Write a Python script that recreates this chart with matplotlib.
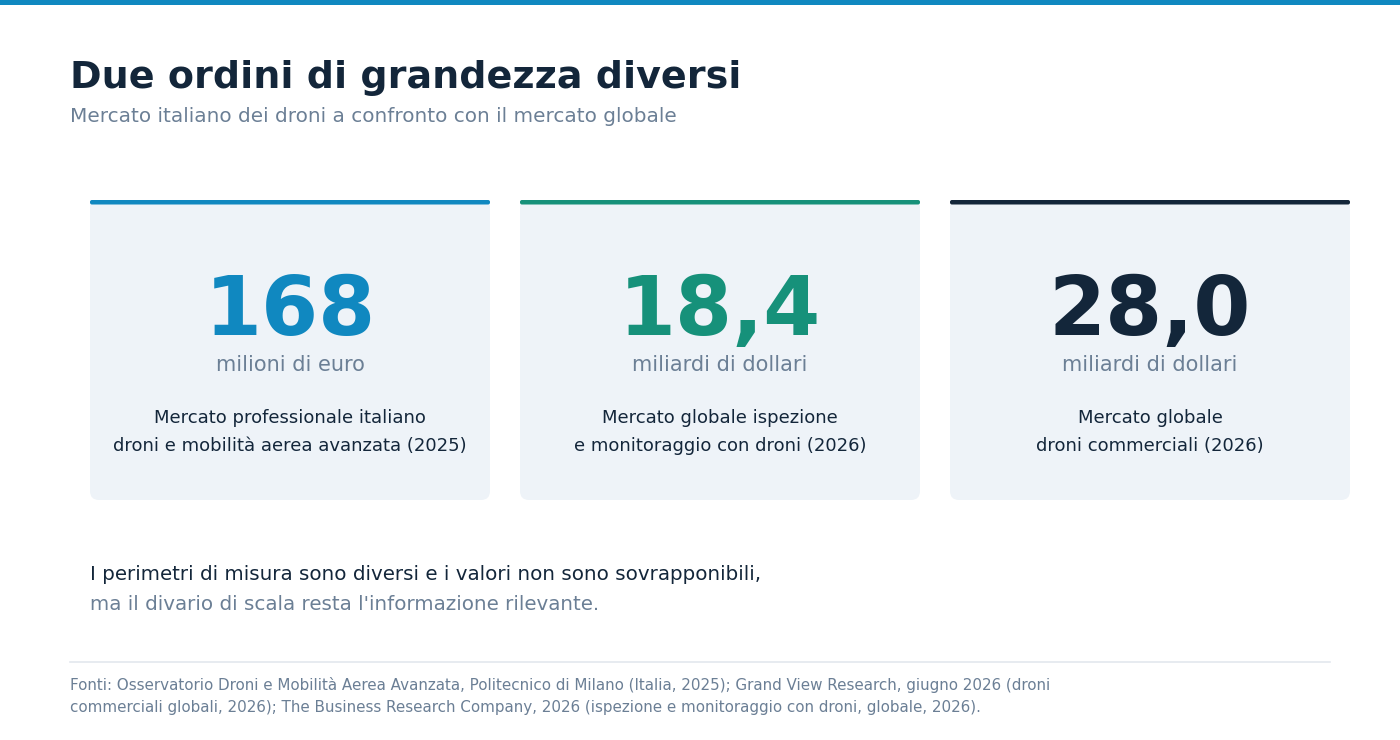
import matplotlib
matplotlib.use('Agg')
import matplotlib.pyplot as plt
from matplotlib.patches import FancyBboxPatch, Rectangle

# Dati delle tre schede
valori = ['168', '18,4', '28,0']
unita = ['milioni di euro', 'miliardi di dollari', 'miliardi di dollari']
descrizioni = [
    'Mercato professionale italiano\ndroni e mobilità aerea avanzata (2025)',
    'Mercato globale ispezione\ne monitoraggio con droni (2026)',
    'Mercato globale\ndroni commerciali (2026)',
]
colori = ['#1088c0', '#16917a', '#13263a']

titolo = 'Due ordini di grandezza diversi'
sottotitolo = 'Mercato italiano dei droni a confronto con il mercato globale'
nota_1 = 'I perimetri di misura sono diversi e i valori non sono sovrapponibili,'
nota_2 = "ma il divario di scala resta l'informazione rilevante."
fonti = ('Fonti: Osservatorio Droni e Mobilità Aerea Avanzata, Politecnico di Milano (Italia, 2025); '
         'Grand View Research, giugno 2026 (droni\ncommerciali globali, 2026); The Business Research '
         'Company, 2026 (ispezione e monitoraggio con droni, globale, 2026).')

SCURO = '#13263a'
GRIGIO = '#6b7f95'
SFONDO_CARD = '#eef3f8'

plt.rcParams['font.family'] = ['DejaVu Sans']

fig = plt.figure(figsize=(14, 7.4), dpi=100)
ax = fig.add_axes([0, 0, 1, 1])
ax.set_xlim(0, 1400)
ax.set_ylim(740, 0)
ax.axis('off')

# barra superiore
ax.add_patch(Rectangle((0, 0), 1400, 5, color='#1088c0', lw=0))

ax.text(70, 88, titolo, fontsize=27.4, fontweight='bold', color=SCURO, va='baseline')
ax.text(70, 117, sottotitolo, fontsize=14.4, color=GRIGIO, va='center')

# schede
larg, alt = 400, 300
for i in range(len(valori)):
    x0 = 90 + i * 430
    ax.add_patch(FancyBboxPatch((x0, 200), larg, alt,
                                boxstyle='round,pad=0,rounding_size=9',
                                fc=SFONDO_CARD, ec='none'))
    # copre gli angoli arrotondati in alto
    ax.add_patch(Rectangle((x0, 200), larg, 20, fc=SFONDO_CARD, ec='none'))
    ax.add_patch(FancyBboxPatch((x0, 200), larg, 4.5,
                                boxstyle='round,pad=0,rounding_size=2',
                                fc=colori[i], ec='none'))
    cx = x0 + larg / 2
    ax.text(cx, 335, valori[i], fontsize=59, fontweight='bold', color=colori[i],
            ha='center', va='baseline')
    ax.text(cx, 365, unita[i], fontsize=15, color=GRIGIO, ha='center', va='center')
    ax.text(cx, 432, descrizioni[i], fontsize=13, color=SCURO, ha='center', va='center',
            linespacing=1.72)

ax.text(90, 574, nota_1, fontsize=14.3, color=SCURO, va='center')
ax.text(90, 605, nota_2, fontsize=14.3, color=GRIGIO, va='center')

ax.plot([70, 1330], [662, 662], color='#e3e8ee', lw=1.2)
ax.text(70, 696, fonti, fontsize=10.9, color=GRIGIO, va='center', linespacing=1.65)

fig.savefig('out.png', dpi=100, facecolor='white')
